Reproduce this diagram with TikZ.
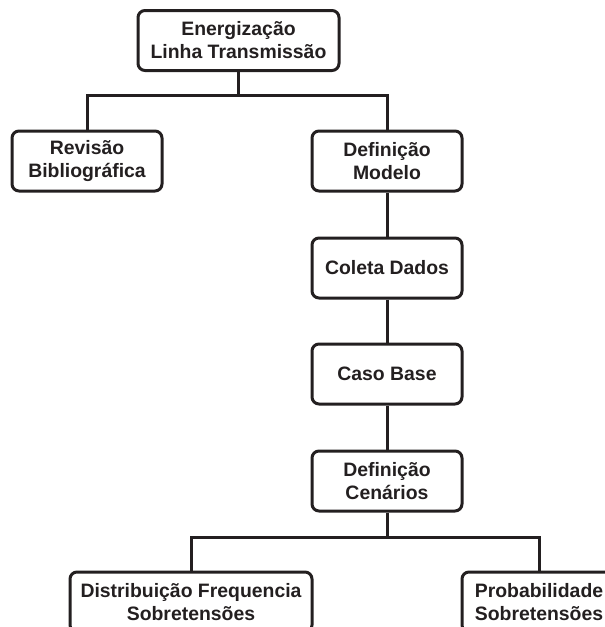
\documentclass[tikz,border=0pt]{standalone}
\usepackage{fontspec}
\setmainfont{Liberation Sans}
\usepackage{tikz}

\definecolor{inkdark}{HTML}{231F20}

\tikzset{
  stage/.style={draw=inkdark, line width=3pt, rounded corners=7pt, fill=white,
    align=center, inner sep=0pt, minimum height=60pt, text=inkdark,
    font=\fontsize{19.4}{23}\selectfont\bfseries},
  link/.style={draw=inkdark, line width=3pt}
}

\begin{document}
\begin{tikzpicture}[x=1pt, y=-1pt]
\useasboundingbox (0,0) rectangle (605,627);
\clip (0,0) rectangle (605,627);

% Topo
\node[stage, minimum width=201pt] (ener) at (238.5,40.5) {Energização\\Linha Transmissão};

% Segundo nivel
\node[stage, minimum width=150pt] (revi) at (87,161) {Revisão\\Bibliográfica};
\node[stage, minimum width=150pt] (defm) at (387,161) {Definição\\Modelo};

% Coluna central
\node[stage, minimum width=150pt] (cole) at (387,268) {Coleta Dados};
\node[stage, minimum width=150pt] (caso) at (387,374) {Caso Base};
\node[stage, minimum width=150pt] (defc) at (387,481) {Definição\\Cenários};

% Ultimo nivel (cortado na borda)
\node[stage, minimum width=242pt] (dist) at (191,602) {Distribuição Frequencia\\Sobretensões};
\node[stage, minimum width=154pt] (prob) at (539,602) {Probabilidade\\Sobretensões};

% Ligacoes
\draw[link] (ener.south) -- ++(0,23) -| (revi.north);
\draw[link] (ener.south) -- ++(0,23) -| (defm.north);
\draw[link] (defm.south) -- (cole.north);
\draw[link] (cole.south) -- (caso.north);
\draw[link] (caso.south) -- (defc.north);
\draw[link] (defc.south) -- ++(0,25) -| (dist.north);
\draw[link] (defc.south) -- ++(0,25) -| (prob.north);
\end{tikzpicture}
\end{document}
